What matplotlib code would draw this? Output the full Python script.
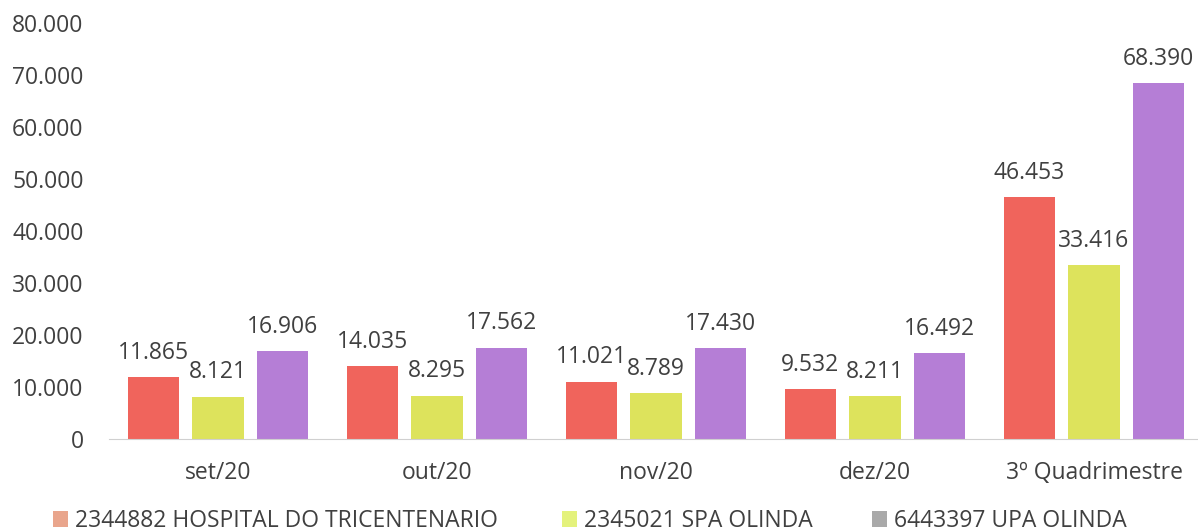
import matplotlib
matplotlib.use("Agg")
import matplotlib.pyplot as plt
from matplotlib.patches import Patch
import numpy as np

categories = ["set/20", "out/20", "nov/20", "dez/20", "3º Quadrimestre"]
series_names = ["2344882 HOSPITAL DO TRICENTENARIO", "2345021 SPA OLINDA", "6443397 UPA OLINDA"]
hospital = [11865, 14035, 11021, 9532, 46453]
spa = [8121, 8295, 8789, 8211, 33416]
upa = [16906, 17562, 17430, 16492, 68390]
yticks = [0, 10000, 20000, 30000, 40000, 50000, 60000, 70000, 80000]

bar_colors = ["#F0645C", "#DDE35C", "#B57ED6"]
legend_colors = ["#E9A58C", "#E4F27C", "#A9A9A9"]
text_color = "#404040"

plt.rcParams['font.family'] = ['Open Sans', 'DejaVu Sans']

def fmt(v):
    return f"{v:,}".replace(",", ".")

W, H = 1198, 531
fig = plt.figure(figsize=(W / 100, H / 100), dpi=100)
ax_left, ax_right, ax_bottom, ax_top = 108.5, 1203.5, 439, 23
ax = fig.add_axes([ax_left / W, (H - ax_bottom) / H, (ax_right - ax_left) / W, (ax_bottom - ax_top) / H])

x = np.arange(len(categories))
offsets = [-0.295, 0.0, 0.295]
width = 0.233
fs = 16.5
for vals, off, col in zip([hospital, spa, upa], offsets, bar_colors):
    bars = ax.bar(x + off, vals, width=width, color=col)
    for b, v in zip(bars, vals):
        ax.annotate(fmt(v), (b.get_x() + b.get_width() / 2, v), xytext=(0, 9),
                    textcoords="offset points", ha="center", va="bottom",
                    fontsize=fs, color=text_color)

ax.set_xlim(-0.5, len(categories) - 0.5)
ax.set_ylim(0, 80000)
ax.set_yticks(yticks)
ax.set_yticklabels([fmt(t) for t in yticks], fontsize=fs, color=text_color)
ax.set_xticks(x)
ax.set_xticklabels(categories, fontsize=fs, color=text_color)
ax.tick_params(axis='y', length=0, pad=18)
ax.tick_params(axis='x', length=0, pad=16)
for s in ["top", "right", "left"]:
    ax.spines[s].set_visible(False)
ax.spines["bottom"].set_color("#D0D0D0")

legend_x = [53, 562, 872]
lfs = 16.5
for name, c, lx in zip(series_names, legend_colors, legend_x):
    leg = fig.legend([Patch(facecolor=c, edgecolor='none')], [name], loc="center left",
                     bbox_to_anchor=(lx / W, 1 - 521 / H), frameon=False,
                     borderpad=0, borderaxespad=0,
                     handlelength=0.66, handleheight=0.65, handletextpad=0.3,
                     prop={'family': 'Open Sans', 'size': lfs})
    for t in leg.get_texts():
        t.set_color(text_color)

fig.savefig("out.png", dpi=100, facecolor="white")
